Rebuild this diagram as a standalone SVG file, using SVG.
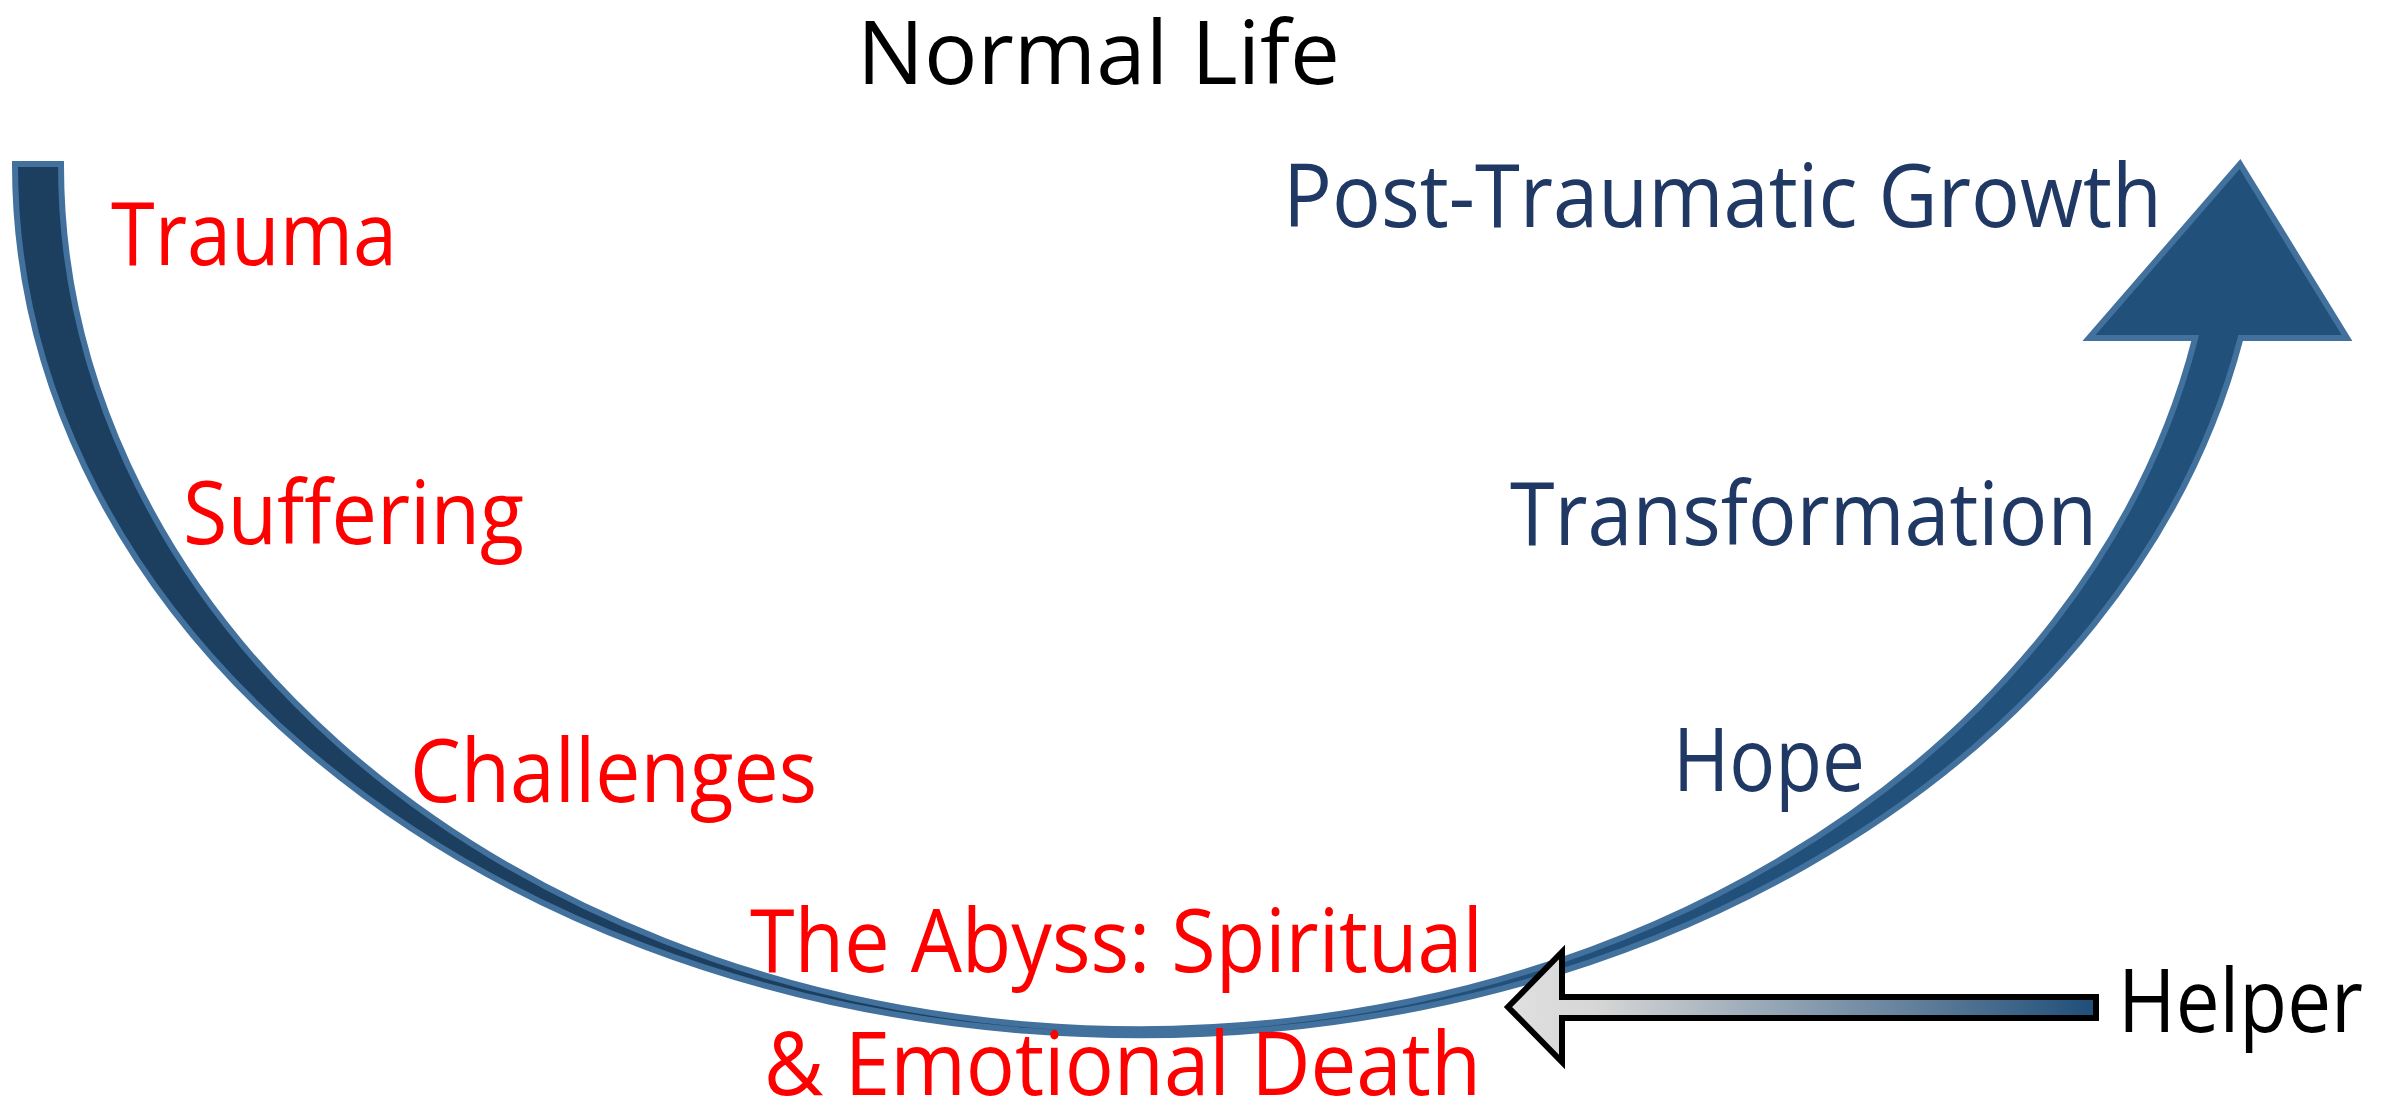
<svg xmlns="http://www.w3.org/2000/svg" width="2382" height="1110" viewBox="0 0 2382 1110">
  <style>
    .lbl { font-family: "Open Sans", "Noto Sans", "Liberation Sans", sans-serif; font-size: 87px; }
    .red { fill: #FF0000; }
    .navy { fill: #203864; }
    .blk { fill: #000000; }
    .band-outline { fill: none; stroke: #41719C; stroke-width: 6; stroke-linejoin: miter; }
  </style>
  <defs>
    <linearGradient id="helperGrad" x1="0" y1="0" x2="1" y2="0">
      <stop offset="0" stop-color="#E0E0E0"/>
      <stop offset="0.15" stop-color="#D6D6D6"/>
      <stop offset="1" stop-color="#1F4E79"/>
    </linearGradient>
  </defs>
  <rect width="2382" height="1110" fill="#FFFFFF"/>

  <g id="connectors">
    <g id="journey-arrow">
      <path d="M15,164 A1124,870 0 0 0 1139,1034 L1139,1028 A1078,864 0 0 1 61,164 Z" fill="#1C3F5F"/>
      <path d="M1139,1034 A1124,870 0 0 0 2240.6,338 L2347,338 L2240,164 L2089,338 L2195.2,338 A1078,864 0 0 1 1139,1028 Z" fill="#21507A"/>
      <path class="band-outline" d="M15,164 A1124,870 0 0 0 2240.6,338 L2347,338 L2240,164 L2089,338 L2195.2,338 A1078,864 0 0 1 61,164 Z"/>
    </g>
    <g id="helper-arrow">
      <path d="M1508,1007 L1562,952 L1562,997 L2096,997 L2096,1018 L1562,1018 L1562,1062 Z" fill="url(#helperGrad)" stroke="#000000" stroke-width="6" stroke-linejoin="miter"/>
    </g>
  </g>

  <g id="normal-life"><text class="lbl blk" x="857" y="84" font-size="94" textLength="483" lengthAdjust="spacingAndGlyphs">Normal Life</text></g>
  <g id="trauma"><text class="lbl red" x="111" y="265" textLength="286" lengthAdjust="spacingAndGlyphs">Trauma</text></g>
  <g id="suffering"><text class="lbl red" x="183" y="544" textLength="341" lengthAdjust="spacingAndGlyphs">Suffering</text></g>
  <g id="challenges"><text class="lbl red" x="410" y="802" textLength="407" lengthAdjust="spacingAndGlyphs">Challenges</text></g>
  <g id="abyss">
    <text class="lbl red" x="750" y="972" textLength="733" lengthAdjust="spacingAndGlyphs">The Abyss: Spiritual</text>
    <text class="lbl red" x="764" y="1095" textLength="717" lengthAdjust="spacingAndGlyphs">&amp; Emotional Death</text>
  </g>
  <g id="post-traumatic-growth"><text class="lbl navy" x="1283" y="227" textLength="879" lengthAdjust="spacingAndGlyphs">Post-Traumatic Growth</text></g>
  <g id="transformation"><text class="lbl navy" x="1510" y="545" textLength="587" lengthAdjust="spacingAndGlyphs">Transformation</text></g>
  <g id="hope"><text class="lbl navy" x="1673" y="791" textLength="192" lengthAdjust="spacingAndGlyphs">Hope</text></g>
  <g id="helper"><text class="lbl blk" x="2118" y="1032" textLength="245" lengthAdjust="spacingAndGlyphs">Helper</text></g>
</svg>
